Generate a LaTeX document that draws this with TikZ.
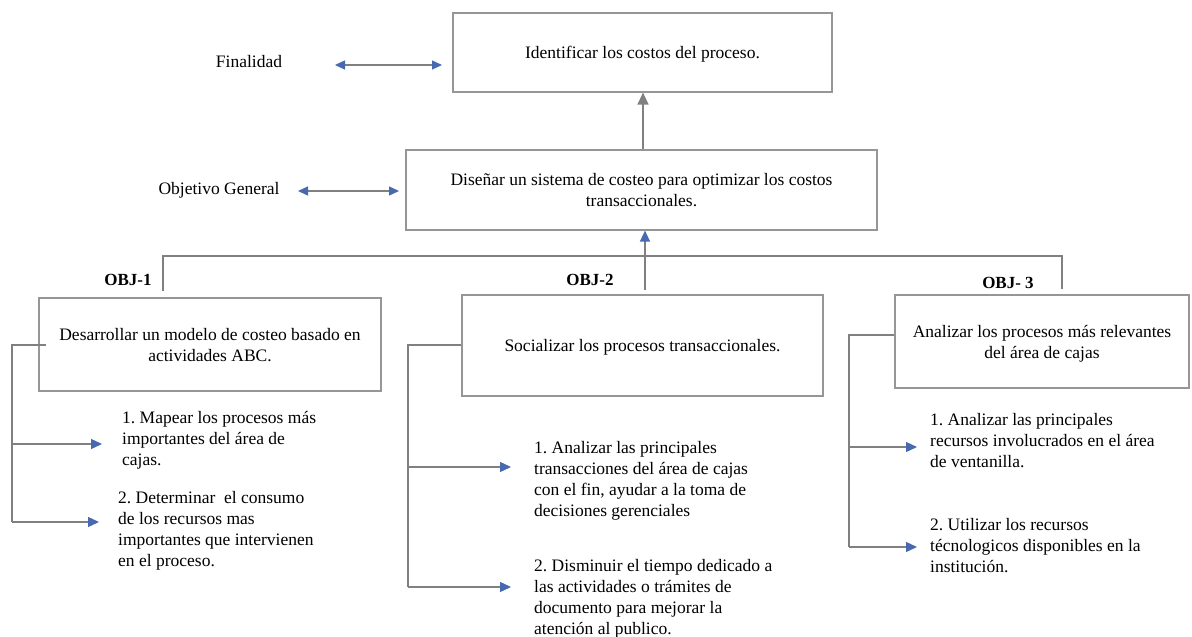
\documentclass[tikz,border=0pt]{standalone}
\usepackage{fontspec}
\setmainfont{Liberation Serif}
\usetikzlibrary{arrows.meta}
\definecolor{linegray}{RGB}{128,128,128}
\definecolor{boxgray}{RGB}{150,150,150}
\definecolor{tipblue}{RGB}{70,105,175}
\frenchspacing
\tikzset{
  x=1pt, y=-1pt,
  every node/.style={font=\fontsize{17.5}{21}\selectfont, text=black},
  goalbox/.style={draw=boxgray, line width=1.2pt, inner sep=0pt, text depth=0pt},
  label/.style={inner sep=0pt},
  itemtext/.style={inner sep=0pt, anchor=north west, align=left},
  objlabel/.style={inner sep=0pt, font=\fontsize{17}{21}\selectfont\bfseries},
  wire/.style={draw=linegray, line width=1.3pt},
  bluearrow/.style={wire, -{Triangle[length=11pt,width=10pt,color=tipblue]}},
  bothways/.style={wire, {Triangle[length=10pt,width=9pt,color=tipblue]}-{Triangle[length=10pt,width=9pt,color=tipblue]}},
  grayarrow/.style={wire, -{Triangle[length=12pt,width=11pt,color=linegray]}},
}
\begin{document}
\begin{tikzpicture}
\useasboundingbox (0,0) rectangle (1192,637);

% upper levels
\node[goalbox, minimum width=379pt, minimum height=79pt] (fin) at (642.5,52.5) {Identificar los costos del proceso.};
\node[goalbox, minimum width=471pt, minimum height=80pt, align=center] (gen) at (641.5,190)
  {Diseñar un sistema de costeo para optimizar los costos\\transaccionales.};
\node[label] (finlbl) at (249,62) {Finalidad};
\node[label] (genlbl) at (219,190) {Objetivo General};
\coordinate (finL) at (335,65);
\coordinate (finR) at (442,65);
\coordinate (genL) at (298,191);
\coordinate (genR) at (399,191);
\draw[bothways] (finL) -- (finR);
\draw[bothways] (genL) -- (genR);
\draw[grayarrow] (gen.north -| 643,0) -- (fin.south -| 643,0);

% specific objectives
\node[goalbox, minimum width=342pt, minimum height=93pt, align=center] (o1) at (210,344.5)
  {Desarrollar un modelo de costeo basado en\\actividades ABC.};
\node[goalbox, minimum width=361pt, minimum height=101pt] (o2) at (642.5,345.5)
  {Socializar los procesos transaccionales.};
\node[goalbox, minimum width=294pt, minimum height=93pt, align=center] (o3) at (1042,341.5)
  {Analizar los procesos más relevantes\\del área de cajas};
\node[objlabel] (l1) at (128,280) {OBJ-1};
\node[objlabel] (l2) at (590,280) {OBJ-2};
\node[objlabel] (l3) at (1008,283) {OBJ- 3};

% distribution bar
\coordinate (barL) at (163,256);
\coordinate (barR) at (1062,256);
\coordinate (barM) at (645,256);
\draw[wire] (163,291) -- (barL) -- (barR) -- (1062,289);
\draw[wire] (645,290) -- (barM);
\draw[bluearrow] (barM) -- (gen.south -| barM);

% objective 1 activities
\node[itemtext] (a11) at (122,411) {1. Mapear los procesos más\\importantes del área de\\cajas.};
\node[itemtext] (a12) at (118,491) {2. Determinar \ el consumo\\de los recursos mas\\importantes que intervienen\\en el proceso.};
\coordinate (b1top) at (12,345);
\coordinate (b1in) at (46,345);
\coordinate (b1a) at (12,444);
\coordinate (b1b) at (12,522);
\coordinate (t11) at (102,444);
\coordinate (t12) at (99,522);
\draw[wire] (b1in) -- (b1top) -- (b1b);
\draw[bluearrow] (b1a) -- (t11);
\draw[bluearrow] (b1b) -- (t12);

% objective 2 activities
\node[itemtext] (a21) at (534,441) {1. Analizar las principales\\transacciones del área de cajas\\con el fin, ayudar a la toma de\\decisiones gerenciales};
\node[itemtext] (a22) at (534,559) {2. Disminuir el tiempo dedicado a\\las actividades o trámites de\\documento para mejorar la\\atención al publico.};
\coordinate (b2top) at (408,345);
\coordinate (b2a) at (408,467);
\coordinate (b2b) at (408,587);
\coordinate (t21) at (511,467);
\coordinate (t22) at (511,587);
\draw[wire] (o2.west |- b2top) -- (b2top) -- (b2b);
\draw[bluearrow] (b2a) -- (t21);
\draw[bluearrow] (b2b) -- (t22);

% objective 3 activities
\node[itemtext] (a31) at (930,413) {1. Analizar las principales\\recursos involucrados en el área\\de ventanilla.};
\node[itemtext] (a32) at (930,518) {2. Utilizar los recursos\\técnologicos disponibles en la\\institución.};
\coordinate (b3top) at (849,335);
\coordinate (b3a) at (849,447);
\coordinate (b3b) at (849,547);
\coordinate (t31) at (917,447);
\coordinate (t32) at (917,547);
\draw[wire] (o3.west |- b3top) -- (b3top) -- (b3b);
\draw[bluearrow] (b3a) -- (t31);
\draw[bluearrow] (b3b) -- (t32);
\end{tikzpicture}
\end{document}
